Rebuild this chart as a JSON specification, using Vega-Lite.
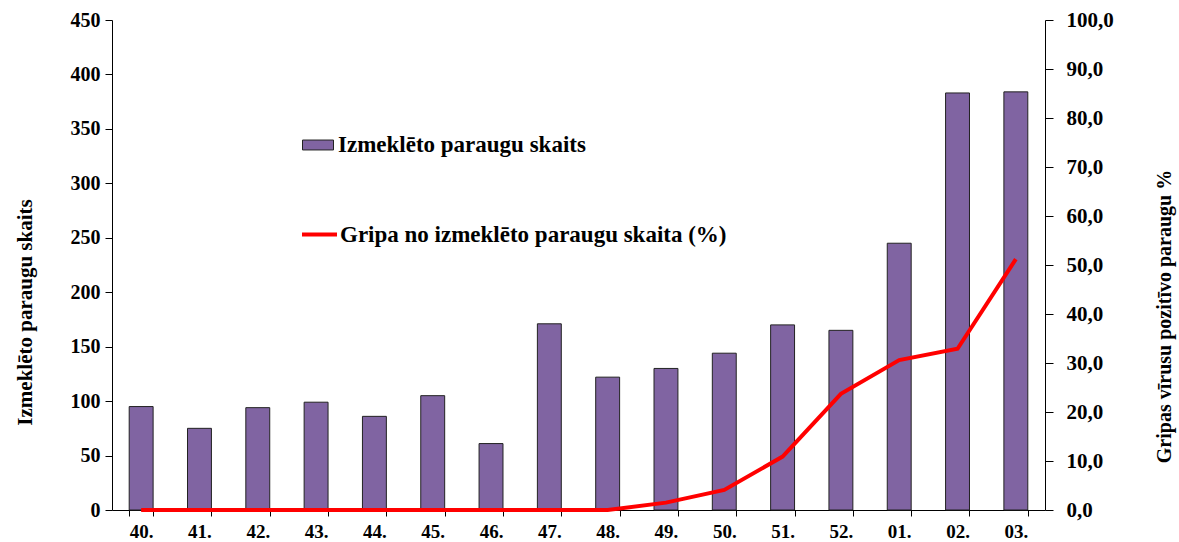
{
  "$schema": "https://vega.github.io/schema/vega-lite/v6.json",
  "width": 933,
  "height": 490,
  "autosize": {"type": "none"},
  "padding": {"left": 112, "top": 20, "right": 134, "bottom": 32},
  "background": "white",
  "config": {
    "view": {"stroke": null},
    "font": "Liberation Serif",
    "axis": {
      "labelFont": "Liberation Serif",
      "titleFont": "Liberation Serif",
      "labelFontWeight": "bold",
      "titleFontWeight": "bold",
      "labelColor": "black",
      "titleColor": "black",
      "domainColor": "black",
      "tickColor": "black",
      "grid": false
    }
  },
  "data": {
    "values": [
      {"week": "40.", "count": 95, "pct": 0},
      {"week": "41.", "count": 75, "pct": 0},
      {"week": "42.", "count": 94, "pct": 0},
      {"week": "43.", "count": 99, "pct": 0},
      {"week": "44.", "count": 86, "pct": 0},
      {"week": "45.", "count": 105, "pct": 0},
      {"week": "46.", "count": 61, "pct": 0},
      {"week": "47.", "count": 171, "pct": 0},
      {"week": "48.", "count": 122, "pct": 0},
      {"week": "49.", "count": 130, "pct": 1.5},
      {"week": "50.", "count": 144, "pct": 4.1},
      {"week": "51.", "count": 170, "pct": 10.9},
      {"week": "52.", "count": 165, "pct": 23.7},
      {"week": "01.", "count": 245, "pct": 30.6},
      {"week": "02.", "count": 383, "pct": 32.9},
      {"week": "03.", "count": 384, "pct": 51.2}
    ]
  },
  "encoding": {
    "x": {
      "field": "week",
      "type": "nominal",
      "sort": null,
      "scale": {"paddingInner": 0.59, "paddingOuter": 0.295},
      "axis": {
        "title": null,
        "labelAngle": 0,
        "tickBand": "extent",
        "labelFontSize": 19,
        "labelPadding": 6,
        "tickSize": 6
      }
    }
  },
  "layer": [
    {
      "mark": {"type": "bar", "stroke": "#222222", "strokeWidth": 1},
      "encoding": {
        "y": {
          "field": "count",
          "type": "quantitative",
          "scale": {"domain": [0, 450]},
          "axis": {
            "title": "Izmeklēto paraugu skaits",
            "values": [0, 50, 100, 150, 200, 250, 300, 350, 400, 450],
            "labelFontSize": 20,
            "titleFontSize": 21,
            "tickSize": 7,
            "labelPadding": 5,
            "titleX": -87,
            "titleY": 292,
            "titleAngle": -90,
            "titleAlign": "center",
            "titleBaseline": "middle"
          }
        },
        "fill": {
          "datum": "Izmeklēto paraugu skaits",
          "type": "nominal",
          "scale": {"range": ["#8064A2"]},
          "legend": {
            "orient": "none",
            "legendX": 190,
            "legendY": 109,
            "title": null,
            "padding": 0,
            "symbolType": "M-1,-0.32H1V0.32H-1Z",
            "symbolSize": 961,
            "symbolStrokeColor": "#222222",
            "symbolStrokeWidth": 1,
            "labelFont": "Liberation Serif",
            "labelFontWeight": "bold",
            "labelFontSize": 23,
            "labelColor": "black",
            "labelLimit": 700,
            "labelOffset": 4
          }
        }
      }
    },
    {
      "mark": {"type": "line", "strokeWidth": 4},
      "encoding": {
        "y": {
          "field": "pct",
          "type": "quantitative",
          "scale": {"domain": [0, 100]},
          "axis": {
            "orient": "right",
            "title": "Gripas vīrusu pozitīvo  paraugu %",
            "values": [0, 10, 20, 30, 40, 50, 60, 70, 80, 90, 100],
            "format": ".1f",
            "labelExpr": "replace(datum.label, '.', ',')",
            "labelFontSize": 21,
            "titleFontSize": 20,
            "tickSize": 8,
            "labelPadding": 13,
            "titleX": 119,
            "titleY": 296,
            "titleAngle": -90,
            "titleAlign": "center",
            "titleBaseline": "middle"
          }
        },
        "stroke": {
          "datum": "Gripa no izmeklēto paraugu skaita (%)",
          "type": "nominal",
          "scale": {"range": ["#FF0000"]},
          "legend": {
            "orient": "none",
            "legendX": 188,
            "legendY": 195,
            "title": null,
            "padding": 0,
            "symbolType": "stroke",
            "symbolSize": 1225,
            "symbolStrokeWidth": 4,
            "labelFont": "Liberation Serif",
            "labelFontWeight": "bold",
            "labelFontSize": 23,
            "labelColor": "black",
            "labelLimit": 700,
            "labelOffset": 1
          }
        }
      }
    }
  ],
  "resolve": {"scale": {"y": "independent", "fill": "independent", "stroke": "independent"}}
}
